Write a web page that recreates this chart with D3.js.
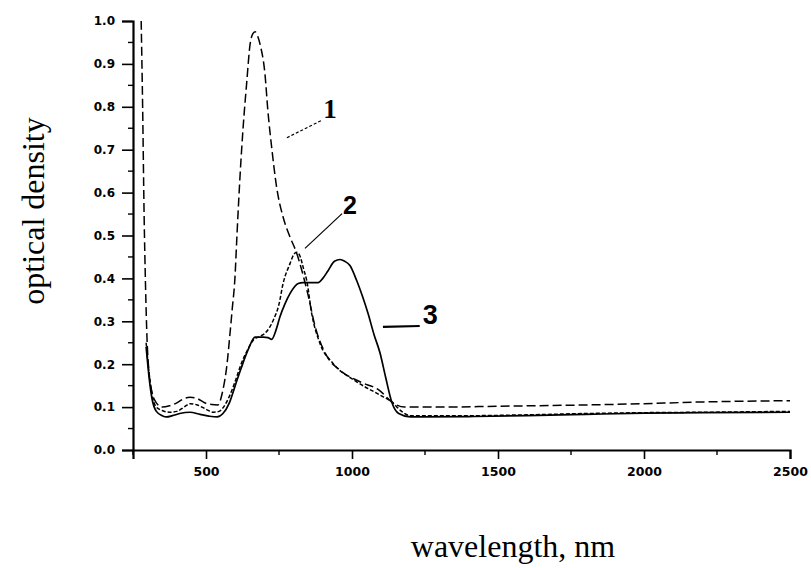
<!DOCTYPE html>
<html>
<head>
<meta charset="utf-8">
<script src="https://cdn.jsdelivr.net/npm/d3@7"></script>
<style>
  html, body { margin: 0; padding: 0; background: #ffffff; }
  svg { display: block; }
</style>
</head>
<body>
<svg id="chart" width="811" height="568"></svg>
<script>
// ---- data ----
const yTicks = [0.0, 0.1, 0.2, 0.3, 0.4, 0.5, 0.6, 0.7, 0.8, 0.9, 1.0];
const xTicks = [500, 1000, 1500, 2000, 2500];
const xMinorTicks = [250, 750, 1250, 1750, 2250];
const seriesNames = ["1", "2", "3"];

const curve1 = [[278,1.0],[283,0.8],[288,0.55],[293,0.38],[298,0.26],[305,0.18],[315,0.135],[330,0.11],[350,0.1],[375,0.103],[400,0.11],[425,0.12],[445,0.123],[470,0.12],[495,0.11],[520,0.106],[540,0.105],[558,0.14],[572,0.2],[582,0.27],[590,0.33],[599,0.4],[606,0.5],[617,0.644],[628,0.76],[639,0.853],[651,0.946],[660,0.97],[668,0.975],[677,0.965],[685,0.946],[702,0.876],[712,0.79],[725,0.705],[742,0.612],[764,0.543],[788,0.496],[810,0.46],[828,0.419],[850,0.36],[873,0.29],[913,0.22],[959,0.186],[1027,0.159],[1096,0.138],[1136,0.112],[1180,0.1],[1300,0.1],[1500,0.102],[1800,0.105],[2000,0.108],[2200,0.112],[2500,0.115]];

const curve2 = [[295,0.25],[305,0.18],[315,0.13],[330,0.1],[350,0.092],[375,0.088],[400,0.09],[425,0.1],[445,0.108],[470,0.105],[500,0.095],[525,0.088],[545,0.09],[560,0.1],[580,0.125],[600,0.16],[620,0.2],[640,0.23],[662,0.256],[685,0.265],[702,0.272],[730,0.302],[750,0.34],[764,0.388],[788,0.435],[800,0.455],[810,0.461],[820,0.455],[835,0.42],[845,0.395],[862,0.318],[890,0.249],[935,0.202],[1016,0.159],[1096,0.128],[1136,0.112],[1170,0.09],[1200,0.08],[1400,0.08],[1600,0.082],[1800,0.085],[2000,0.087],[2200,0.088],[2500,0.09]];

const curve3 = [[295,0.24],[305,0.17],[315,0.12],[330,0.09],[350,0.08],[365,0.077],[385,0.08],[410,0.085],[445,0.088],[480,0.083],[510,0.079],[538,0.077],[558,0.085],[580,0.11],[600,0.15],[620,0.19],[645,0.235],[668,0.263],[696,0.263],[712,0.262],[725,0.258],[740,0.28],[753,0.31],[770,0.34],[788,0.365],[816,0.388],[832,0.39],[884,0.39],[900,0.4],[918,0.418],[940,0.44],[959,0.444],[975,0.44],[993,0.43],[1016,0.395],[1035,0.36],[1055,0.318],[1075,0.27],[1096,0.226],[1115,0.17],[1136,0.112],[1160,0.085],[1200,0.077],[1400,0.078],[1600,0.08],[1800,0.083],[2000,0.086],[2200,0.087],[2500,0.088]];

// annotation anchors in data units: [labelX, labelY, leaderFromX, leaderFromY, leaderToX, leaderToY]
const annot1 = [925, 0.795, 777, 0.728, 895, 0.768];
const annot2 = [993, 0.572, 839, 0.47, 966, 0.551];
const annot3 = [1268, 0.314, 1106, 0.287, 1232, 0.289];

// ---- drawing ----
const svg = d3.select("#chart");
const x = d3.scaleLinear().domain([250, 2500]).range([133, 790]);
const y = d3.scaleLinear().domain([0, 1]).range([450, 21]);

const tickFont = "'DejaVu Sans', 'Liberation Sans', sans-serif";

// Y axis
const yAxis = d3.axisLeft(y).tickValues(yTicks).tickFormat(d3.format(".1f")).tickSizeOuter(0).tickSize(11).tickPadding(7);
const gy = svg.append("g").attr("transform", `translate(${x(250)},0)`).call(yAxis);
gy.select(".domain").attr("stroke", "#000").attr("stroke-width", 2.2);
gy.selectAll(".tick line").attr("stroke", "#000").attr("stroke-width", 1.6);
gy.selectAll(".tick text").attr("font-family", tickFont).attr("font-size", 12).attr("font-weight", "bold").attr("fill", "#000");
// minor y ticks
const yMinor = d3.range(0.05, 1.0, 0.1);
svg.append("g").selectAll("line").data(yMinor).join("line")
  .attr("x1", x(250) - 5).attr("x2", x(250))
  .attr("y1", d => y(d)).attr("y2", d => y(d))
  .attr("stroke", "#000").attr("stroke-width", 1.4);

// X axis
const xAxis = d3.axisBottom(x).tickValues(xTicks).tickFormat(d3.format("d")).tickSizeOuter(0).tickSize(9).tickPadding(8);
const gx = svg.append("g").attr("transform", `translate(0,${y(0)})`).call(xAxis);
gx.select(".domain").attr("stroke", "#000").attr("stroke-width", 2.2);
gx.selectAll(".tick line").attr("stroke", "#000").attr("stroke-width", 1.6);
gx.selectAll(".tick text").attr("font-family", tickFont).attr("font-size", 12.5).attr("font-weight", "bold").attr("fill", "#000");
svg.append("g").selectAll("line").data(xMinorTicks).join("line")
  .attr("x1", d => x(d)).attr("x2", d => x(d))
  .attr("y1", y(0)).attr("y2", y(0) + 5)
  .attr("stroke", "#000").attr("stroke-width", 1.4);

// clip
svg.append("clipPath").attr("id", "plotclip").append("rect")
  .attr("x", x(250)).attr("y", y(1.0) - 2).attr("width", x(2500) - x(250) + 4).attr("height", y(0) - y(1.0) + 2);

const line = d3.line().x(d => x(d[0])).y(d => y(d[1])).curve(d3.curveMonotoneX);
const plot = svg.append("g").attr("clip-path", "url(#plotclip)");
const styles = [
  { data: curve1, dash: "9,4", width: 1.5 },
  { data: curve2, dash: "4,2", width: 1.5 },
  { data: curve3, dash: null, width: 1.7 }
];
styles.forEach(s => {
  plot.append("path").datum(s.data)
    .attr("d", line)
    .attr("fill", "none")
    .attr("stroke", "#000")
    .attr("stroke-width", s.width)
    .attr("stroke-dasharray", s.dash);
});

// annotations
const annots = [annot1, annot2, annot3];
const annotSizes = [27, 25, 27];
annots.forEach((a, i) => {
  svg.append("line")
    .attr("x1", x(a[2])).attr("y1", y(a[3]))
    .attr("x2", x(a[4])).attr("y2", y(a[5]))
    .attr("stroke", "#000")
    .attr("stroke-width", i === 2 ? 2.2 : 1.2)
    .attr("stroke-dasharray", i === 0 ? "3,2" : null);
  svg.append("text")
    .attr("x", x(a[0])).attr("y", y(a[1]))
    .attr("font-family", i === 0 ? "'Liberation Serif', serif" : "'Liberation Sans', sans-serif")
    .attr("font-weight", "bold")
    .attr("font-size", annotSizes[i])
    .attr("text-anchor", "middle")
    .attr("dominant-baseline", "central")
    .text(seriesNames[i]);
});

// axis titles
svg.append("text")
  .attr("transform", `translate(44,211) rotate(-90)`)
  .attr("font-family", "'Liberation Serif', 'Times New Roman', serif")
  .attr("font-size", 32)
  .attr("text-anchor", "middle")
  .attr("fill", "#000")
  .text("optical density");

svg.append("text")
  .attr("x", 513).attr("y", 557)
  .attr("font-family", "'Liberation Serif', 'Times New Roman', serif")
  .attr("font-size", 32)
  .attr("text-anchor", "middle")
  .attr("fill", "#000")
  .text("wavelength, nm");
</script>
</body>
</html>
